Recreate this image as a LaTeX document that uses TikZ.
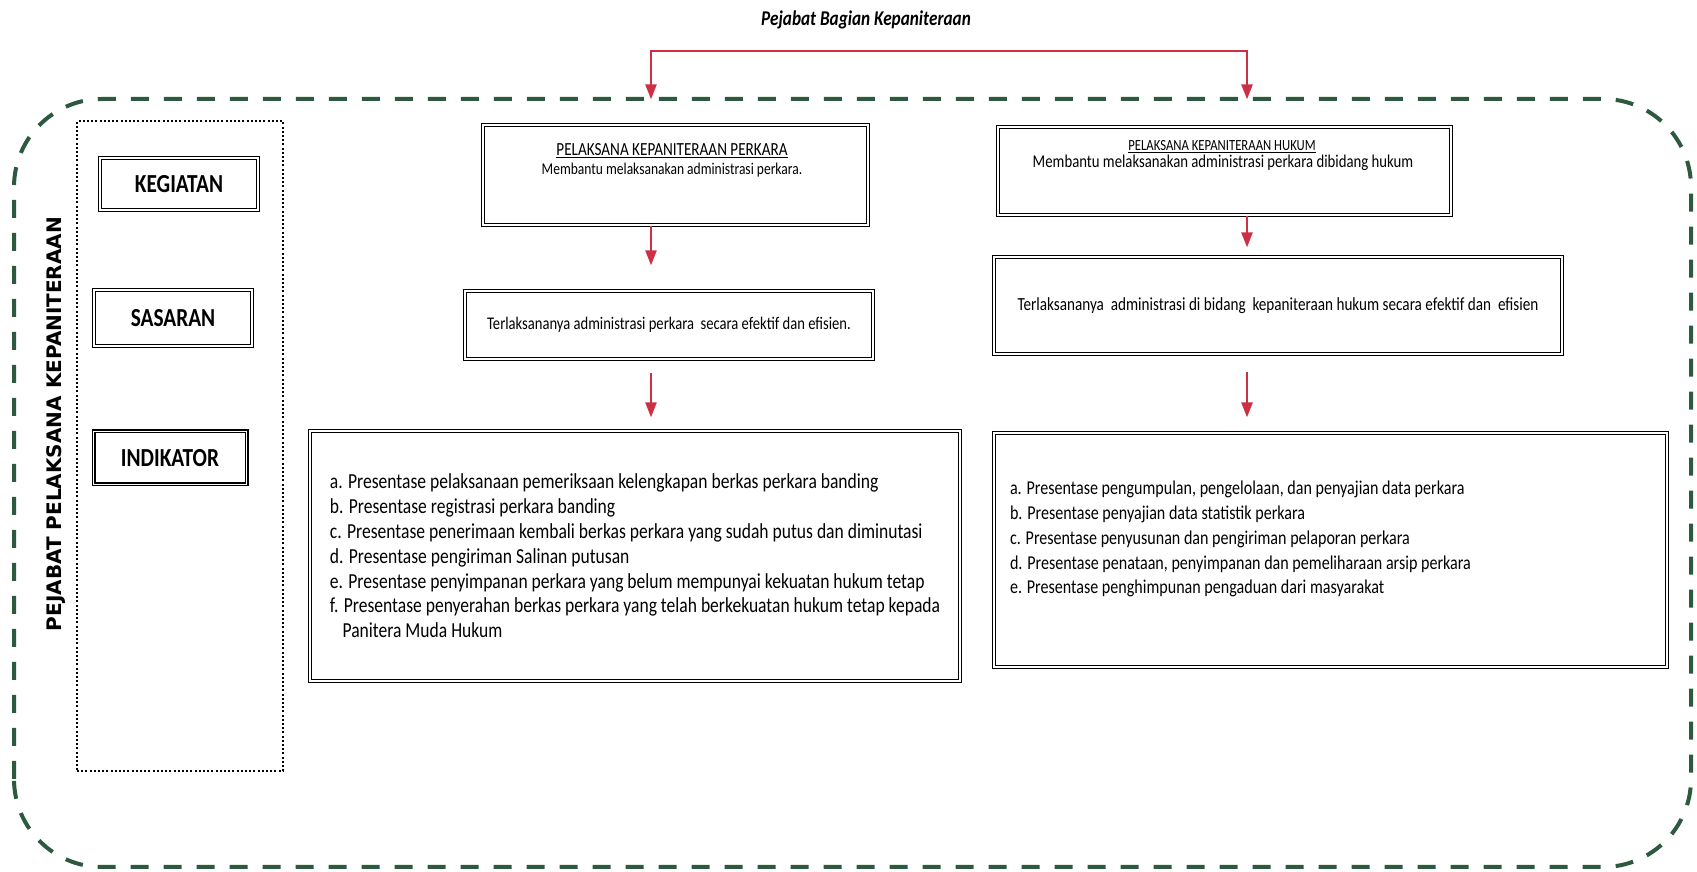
\documentclass[tikz,border=0pt]{standalone}
\usepackage{fontspec}
\setmainfont{Carlito}[FakeStretch=0.82]
\newfontfamily\sidefont{DejaVu Sans}
\usepackage{tikz}
\usetikzlibrary{arrows.meta,positioning}
\definecolor{framegreen}{RGB}{45,90,62}
\definecolor{arrowred}{RGB}{205,48,68}

\begin{document}
\begin{tikzpicture}[x=1pt, y=1pt,
  lblbox/.style={draw, line width=1.2pt, double, double distance=1.6pt,
                 font=\fontsize{26}{30}\selectfont\bfseries},
  unitbox/.style={draw, line width=1.2pt, double, double distance=1.8pt, align=center},
  listbox/.style={unitbox, align=flush left, inner xsep=16pt, font=\fontsize{21.4}{24.8}\selectfont},
  arr/.style={-{Triangle[length=15pt,width=11pt]}, line width=2.4pt, arrowred}
]
\useasboundingbox (0,0) rectangle (1697,872);

% Top: Pejabat Bagian Kepaniteraan
\node[font=\fontsize{21}{25}\selectfont\bfseries\itshape] (title) at (866,852) {Pejabat Bagian Kepaniteraan};

% Outer frame and left column
\draw[framegreen, line width=4pt, dash pattern=on 18pt off 15pt, rounded corners=88pt]
  (14,5) rectangle (1691,773);
\node[draw, line width=2.2pt, dash pattern=on 2pt off 2.2pt,
      minimum width=206pt, minimum height=650pt] (side) at (180,426) {};
\node[rotate=90, font=\sidefont\bfseries\fontsize{20}{24}\selectfont] (pejabat) at (56,448)
  {PEJABAT PELAKSANA KEPANITERAAN};

\node[lblbox, minimum width=158pt, minimum height=52pt] (keg) at (179,688) {KEGIATAN};
\node[lblbox, minimum width=158pt, minimum height=56pt] (sas) at (173,554) {SASARAN};
\node[lblbox, minimum width=153pt, minimum height=53pt] (indk) at (170,414) {INDIKATOR};

% Middle: Kepaniteraan Perkara
\node[unitbox, minimum width=385pt, minimum height=100pt] (pk1) at (675.5,697) {};
\node[font=\fontsize{18.5}{20}\selectfont] (pk1t) at (672,721) {\underline{PELAKSANA KEPANITERAAN PERKARA}};
\node[font=\fontsize{16.5}{20}\selectfont] (pk1s) at (672,702) {Membantu melaksanakan administrasi perkara.};

\node[unitbox, minimum width=408pt, minimum height=68pt, font=\fontsize{17.8}{20}\selectfont] (pk2) at (669,547)
  {Terlaksananya administrasi perkara \ secara efektif dan efisien.};

\node[listbox, minimum width=650pt, minimum height=250pt] (pk3) at (635,316) {%
  a. Presentase pelaksanaan pemeriksaan kelengkapan berkas perkara banding\\
  b. Presentase registrasi perkara banding\\
  c. Presentase penerimaan kembali berkas perkara yang sudah putus dan diminutasi\\
  d. Presentase pengiriman Salinan putusan\\
  e. Presentase penyimpanan perkara yang belum mempunyai kekuatan hukum tetap\\
  f. Presentase penyerahan berkas perkara yang telah berkekuatan hukum tetap kepada\\
  \phantom{f.\ }Panitera Muda Hukum};

% Right: Kepaniteraan Hukum
\node[unitbox, minimum width=453pt, minimum height=88pt] (hk1) at (1224.5,701) {};
\node[font=\fontsize{15.5}{18}\selectfont] (hk1t) at (1222,725) {\underline{PELAKSANA KEPANITERAAN HUKUM}};
\node[font=\fontsize{18}{20}\selectfont] (hk1s) at (1223,709) {Membantu melaksanakan administrasi perkara dibidang hukum};

\node[unitbox, minimum width=568pt, minimum height=97pt, font=\fontsize{18.5}{22}\selectfont] (hk2) at (1278,566.5)
  {Terlaksananya \ administrasi di bidang \ kepaniteraan hukum secara efektif dan \ efisien};

\node[listbox, text width=641pt, minimum height=234pt, font=\fontsize{19.6}{24.8}\selectfont] (hk3) at (1330.5,322) {%
  a. Presentase pengumpulan, pengelolaan, dan penyajian data perkara\\
  b. Presentase penyajian data statistik perkara\\
  c. Presentase penyusunan dan pengiriman pelaporan perkara\\
  d. Presentase penataan, penyimpanan dan pemeliharaan arsip perkara\\
  e. Presentase penghimpunan pengaduan dari masyarakat\\
  \mbox{}};

% Arrows
\coordinate (barL) at (651,821);
\coordinate (barR) at (1247,821);
\draw[arr, {Triangle[length=15pt,width=11pt]}-{Triangle[length=15pt,width=11pt]},
      shorten <=25pt, shorten >=27pt]
  (pk1.north -| barL) |- (barR) -- (hk1.north -| barR);

\draw[arr, shorten >=25pt] (pk1.south -| barL) -- (pk2.north -| barL);
\draw[arr, shorten <=13pt, shorten >=13pt] (pk2.south -| barL) -- (pk3.north -| barL);
\draw[arr, shorten >=9pt] (hk1.south -| barR) -- (hk2.north -| barR);
\draw[arr, shorten <=17pt, shorten >=15pt] (hk2.south -| barR) -- (hk3.north -| barR);

\end{tikzpicture}
\end{document}
